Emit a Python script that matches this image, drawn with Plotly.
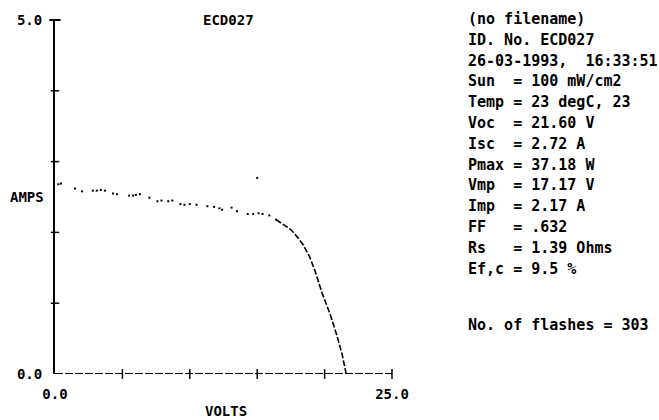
import plotly.graph_objects as go

# ---- data ----
flat_volts = [0.25, 0.44, 1.48, 2.0, 2.8, 3.1, 3.4, 3.7, 4.3, 4.6, 5.5, 5.8, 6.0, 6.3, 7.0,
              7.6, 7.9, 8.4, 8.7, 9.3, 9.6, 10.0, 10.5, 11.3, 11.8, 12.2, 12.4, 13.1, 13.5,
              14.3, 14.7, 15.1, 15.4, 15.9, 16.4]
flat_amps = [2.68, 2.69, 2.62, 2.58, 2.59, 2.59, 2.60, 2.59, 2.55, 2.54, 2.52, 2.52, 2.53, 2.54, 2.49,
             2.44, 2.45, 2.44, 2.45, 2.40, 2.39, 2.40, 2.39, 2.37, 2.36, 2.34, 2.32, 2.35, 2.30,
             2.26, 2.26, 2.27, 2.26, 2.24, 2.18]
steep_volts = [16.4, 17.0, 17.5, 18.0, 18.4, 18.9, 19.3, 19.8, 20.4, 20.9, 21.3, 21.6]
steep_amps = [2.18, 2.11, 2.04, 1.93, 1.83, 1.65, 1.45, 1.15, 0.85, 0.55, 0.28, 0.0]
stray_volts = [15.0]
stray_amps = [2.77]

x_range = [0, 25]
y_range = [0, 5]
x_minor_ticks = [5, 10, 15, 20]
y_minor_ticks = [1, 2, 3, 4]
x_tick_vals = [0, 25]
x_tick_text = ["0.0", "25.0"]
y_tick_vals = [0, 5]
y_tick_text = ["0.0", "5.0"]

title_text = "ECD027"
x_title = "VOLTS"
y_title = "AMPS"
info_lines = [
    "(no filename)",
    "ID. No. ECD027",
    "26-03-1993,  16:33:51",
    "Sun  = 100 mW/cm2",
    "Temp = 23 degC, 23",
    "Voc  = 21.60 V",
    "Isc  = 2.72 A",
    "Pmax = 37.18 W",
    "Vmp  = 17.17 V",
    "Imp  = 2.17 A",
    "FF   = .632",
    "Rs   = 1.39 Ohms",
    "Ef,c = 9.5 %",
]
flash_line = "No. of flashes = 303"

# ---- layout geometry ----
W, H = 659, 420
L, R, T, B = 55, 392, 20, 374
FONT = "DejaVu Sans Mono"


def px(xp):
    return (xp - L) / (R - L)


def py(yp):
    return (B - yp) / (B - T)


def tfont(size):
    return dict(family=FONT, size=size, color="black", weight="bold")


fig = go.Figure()

# measured points (flat region)
fig.add_trace(go.Scatter(x=flat_volts, y=flat_amps, mode="markers",
                         marker=dict(symbol="square", size=2, color="black"),
                         hoverinfo="skip", showlegend=False))
fig.add_trace(go.Scatter(x=stray_volts, y=stray_amps, mode="markers",
                         marker=dict(symbol="square", size=2, color="black"),
                         hoverinfo="skip", showlegend=False))
# steep region
fig.add_trace(go.Scatter(x=steep_volts, y=steep_amps, mode="lines",
                         line=dict(color="black", width=1.6, dash="6px,2px"),
                         hoverinfo="skip", showlegend=False))

# axis tick marks crossing the axes
fig.add_trace(go.Scatter(x=[0] * len(y_minor_ticks), y=y_minor_ticks, mode="markers",
                         marker=dict(symbol="line-ew", size=6, line=dict(color="black", width=1.5)),
                         hoverinfo="skip", showlegend=False, cliponaxis=False))
fig.add_trace(go.Scatter(x=[0], y=[y_range[1]], mode="markers",
                         marker=dict(symbol="line-ew", size=8, line=dict(color="black", width=2)),
                         hoverinfo="skip", showlegend=False, cliponaxis=False))
fig.add_trace(go.Scatter(x=x_minor_ticks + [x_range[1]], y=[0] * (len(x_minor_ticks) + 1), mode="markers",
                         marker=dict(symbol="line-ns", size=7, line=dict(color="black", width=1.5)),
                         hoverinfo="skip", showlegend=False, cliponaxis=False))

# dashed-looking x axis line
fig.add_shape(type="line", xref="x", yref="y", x0=x_range[0], x1=x_range[1], y0=0, y1=0,
              line=dict(color="black", width=2, dash="8px,2px"))

annotations = [
    dict(text=title_text, x=px(228), y=py(20), xref="paper", yref="paper",
         showarrow=False, font=tfont(14), xanchor="center", yanchor="middle"),
    dict(text=y_title, x=px(27), y=py(197), xref="paper", yref="paper",
         showarrow=False, font=tfont(14), xanchor="center", yanchor="middle"),
    dict(text=x_title, x=px(226), y=py(411), xref="paper", yref="paper",
         showarrow=False, font=tfont(14), xanchor="center", yanchor="middle"),
]
for i, line in enumerate(info_lines):
    annotations.append(dict(text=line.replace(" ", "&nbsp;"), x=px(466), y=py(19 + 20.8 * i),
                            xref="paper", yref="paper", showarrow=False,
                            font=tfont(15), xanchor="left", yanchor="middle"))
annotations.append(dict(text=flash_line.replace(" ", "&nbsp;"), x=px(466), y=py(325),
                        xref="paper", yref="paper", showarrow=False,
                        font=tfont(15), xanchor="left", yanchor="middle"))

fig.update_layout(
    width=W, height=H,
    margin=dict(l=L, r=W - R, t=T, b=H - B, pad=0),
    paper_bgcolor="white", plot_bgcolor="white",
    showlegend=False,
    annotations=annotations,
    xaxis=dict(range=x_range, showgrid=False, zeroline=False, showline=False,
               tickvals=x_tick_vals, ticktext=x_tick_text, ticks="",
               tickfont=tfont(14), ticklabelstandoff=10, fixedrange=True),
    yaxis=dict(range=y_range, showgrid=False, zeroline=False, showline=True,
               linecolor="black", linewidth=2,
               tickvals=y_tick_vals, ticktext=y_tick_text, ticks="",
               tickfont=tfont(14), ticklabelstandoff=8, fixedrange=True),
)

fig.write_html("out.html", config={"displayModeBar": False})
